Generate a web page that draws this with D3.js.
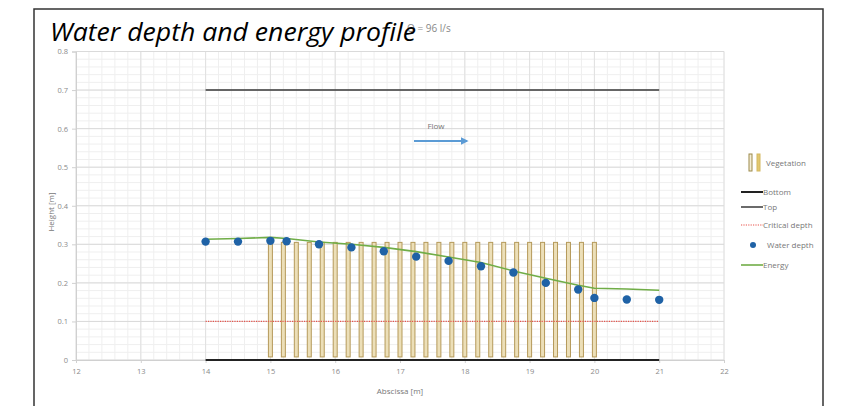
<!DOCTYPE html>
<html><head><meta charset="utf-8">
<script src="https://cdn.jsdelivr.net/npm/d3@7"></script>
<style>body{margin:0;background:#fff}svg{display:block}</style>
</head><body><svg id="c" width="846" height="406"></svg>
<script>
const stations = [14, 14.5, 15, 15.25, 15.75, 16.25, 16.75, 17.25, 17.75, 18.25, 18.75, 19.25, 19.75, 20, 20.5, 21];
const waterDepth = [0.307, 0.307, 0.309, 0.308, 0.300, 0.292, 0.282, 0.268, 0.257, 0.243, 0.227, 0.200, 0.183, 0.161, 0.157, 0.156];
const energy = [0.313, 0.315, 0.318, 0.315, 0.306, 0.300, 0.292, 0.281, 0.267, 0.253, 0.231, 0.212, 0.194, 0.186, 0.184, 0.181];
const vegX = [15, 15.2, 15.4, 15.6, 15.8, 16, 16.2, 16.4, 16.6, 16.8, 17, 17.2, 17.4, 17.6, 17.8, 18, 18.2, 18.4, 18.6, 18.8, 19, 19.2, 19.4, 19.6, 19.8, 20];
const vegRange = [0.008, 0.305];
const channelX = [14, 21];
const bottomY = [0, 0];
const topY = [0.7, 0.7];
const criticalY = [0.1, 0.1];
const xTicks = [12, 13, 14, 15, 16, 17, 18, 19, 20, 21, 22];
const yTicks = [0, 0.1, 0.2, 0.3, 0.4, 0.5, 0.6, 0.7, 0.8];
const legendLabels = ["Vegetation", "Bottom", "Top", "Critical depth", "Water depth", "Energy"];

const svg = d3.select("#c");
const x = d3.scaleLinear().domain([12, 22]).range([76, 724]);
const y = d3.scaleLinear().domain([0, 0.8]).range([360, 51.5]);
const greyTxt = "#8a8a8a";

// frame
svg.append("rect").attr("x", 34).attr("y", 9).attr("width", 789).attr("height", 420)
  .attr("fill", "none").attr("stroke", "#333").attr("stroke-width", 1.5);

// minor grid
const g = svg.append("g");
g.selectAll(".vmin").data(d3.range(12, 22.001, 0.2)).join("line")
  .attr("x1", d => x(d)).attr("x2", d => x(d)).attr("y1", y(0)).attr("y2", y(0.8))
  .attr("stroke", "#efefef").attr("stroke-width", 1);
g.selectAll(".hmin").data(d3.range(0, 0.8001, 0.02)).join("line")
  .attr("x1", x(12)).attr("x2", x(22)).attr("y1", d => y(d)).attr("y2", d => y(d))
  .attr("stroke", "#efefef").attr("stroke-width", 1);
// major grid
g.selectAll(".vmaj").data(xTicks).join("line")
  .attr("x1", d => x(d)).attr("x2", d => x(d)).attr("y1", y(0)).attr("y2", y(0.8))
  .attr("stroke", "#e0e0e0").attr("stroke-width", 1);
g.selectAll(".hmaj").data(yTicks).join("line")
  .attr("x1", x(12)).attr("x2", x(22)).attr("y1", d => y(d)).attr("y2", d => y(d))
  .attr("stroke", "#dadada").attr("stroke-width", 1);

// axes
const yAxis = d3.axisLeft(y).tickValues(yTicks).tickSize(4).tickFormat(d => d === 0 ? "0" : d3.format(".1f")(d));
const ya = svg.append("g").attr("transform", `translate(${x(12)},0)`).call(yAxis);
ya.select(".domain").attr("stroke", "#d0d0d0");
ya.selectAll(".tick line").attr("stroke", "#d0d0d0");
ya.selectAll("text").attr("fill", greyTxt).attr("font-family", "Open Sans, sans-serif").attr("font-size", 7.5).attr("dx", -1);
const xAxis = d3.axisBottom(x).tickValues(xTicks).tickSize(3).tickFormat(d3.format("d"));
const xa = svg.append("g").attr("transform", `translate(0,${y(0)})`).call(xAxis);
xa.select(".domain").attr("stroke", "#d0d0d0");
xa.selectAll(".tick line").attr("stroke", "#d0d0d0");
xa.selectAll("text").attr("fill", greyTxt).attr("font-family", "Open Sans, sans-serif").attr("font-size", 7.5).attr("dy", "1.1em");

// vegetation
svg.append("g").selectAll("rect").data(vegX).join("rect")
  .attr("x", d => x(d) - 2).attr("width", 4)
  .attr("y", y(vegRange[1])).attr("height", y(vegRange[0]) - y(vegRange[1]))
  .attr("fill", "#ecdfb8").attr("stroke", "#b59a5a").attr("stroke-width", 1);

// lines
const line = d3.line().x(d => x(d[0])).y(d => y(d[1]));
svg.append("path").datum(channelX.map((v, i) => [v, criticalY[i]])).attr("d", line)
  .attr("stroke", "#e8524a").attr("stroke-width", 1.2).attr("stroke-dasharray", "1.2,1.2").attr("fill", "none");
svg.append("path").datum(channelX.map((v, i) => [v, topY[i]])).attr("d", line)
  .attr("stroke", "#3a3a3a").attr("stroke-width", 1.5).attr("fill", "none");
svg.append("path").datum(channelX.map((v, i) => [v, bottomY[i]])).attr("d", line)
  .attr("stroke", "#222").attr("stroke-width", 2.2).attr("fill", "none");
svg.append("path").datum(stations.map((v, i) => [v, energy[i]])).attr("d", line)
  .attr("stroke", "#70ad47").attr("stroke-width", 1.6).attr("fill", "none");
svg.append("g").selectAll("circle").data(stations.map((v, i) => [v, waterDepth[i]])).join("circle")
  .attr("cx", d => x(d[0])).attr("cy", d => y(d[1])).attr("r", 4.2)
  .attr("fill", "#1f62a6");

// flow arrow
svg.append("defs").append("marker").attr("id", "ah").attr("viewBox", "0 0 10 10")
  .attr("refX", 8).attr("refY", 5).attr("markerWidth", 4).attr("markerHeight", 4).attr("orient", "auto")
  .append("path").attr("d", "M0,0L10,5L0,10z").attr("fill", "#5b9bd5");
svg.append("line").attr("x1", 414).attr("x2", 467).attr("y1", 141).attr("y2", 141)
  .attr("stroke", "#5b9bd5").attr("stroke-width", 2).attr("marker-end", "url(#ah)");
svg.append("text").attr("x", 436).attr("y", 129).attr("text-anchor", "middle")
  .attr("font-family", "Open Sans, sans-serif").attr("font-size", 8).attr("fill", "#777").text("Flow");

// axis titles
svg.append("text").attr("x", 400).attr("y", 394).attr("text-anchor", "middle")
  .attr("font-family", "Open Sans, sans-serif").attr("font-size", 8).attr("fill", "#777").text("Abscissa [m]");
svg.append("text").attr("transform", "translate(54,212) rotate(-90)").attr("text-anchor", "middle")
  .attr("font-family", "Open Sans, sans-serif").attr("font-size", 8).attr("fill", "#777").text("Height [m]");

// Q label and title
svg.append("text").attr("x", 407).attr("y", 32)
  .attr("font-family", "Open Sans, sans-serif").attr("font-size", 10).attr("fill", "#888").text("Q = 96 l/s");
svg.append("text").attr("x", 50).attr("y", 41)
  .attr("font-family", "Open Sans, sans-serif").attr("font-style", "italic").attr("font-size", 25)
  .attr("textLength", 366).attr("lengthAdjust", "spacingAndGlyphs")
  .attr("fill", "#000").text("Water depth and energy profile");

// legend
const lg = svg.append("g").attr("font-family", "Open Sans, sans-serif").attr("font-size", 8).attr("fill", "#777");
const ly = [163, 192, 207, 225, 245, 265];
lg.append("rect").attr("x", 749).attr("y", 154).attr("width", 3).attr("height", 17).attr("fill", "#f4edd6").attr("stroke", "#9c8a4a").attr("stroke-width", 1);
lg.append("rect").attr("x", 757).attr("y", 154).attr("width", 3).attr("height", 17).attr("fill", "#e2c870").attr("stroke", "#d4b860").attr("stroke-width", 1);
lg.append("line").attr("x1", 741).attr("x2", 763).attr("y1", ly[1]).attr("y2", ly[1]).attr("stroke", "#222").attr("stroke-width", 2);
lg.append("line").attr("x1", 741).attr("x2", 763).attr("y1", ly[2]).attr("y2", ly[2]).attr("stroke", "#3a3a3a").attr("stroke-width", 1.5);
lg.append("line").attr("x1", 741).attr("x2", 763).attr("y1", ly[3]).attr("y2", ly[3]).attr("stroke", "#e8524a").attr("stroke-width", 1.2).attr("stroke-dasharray", "1.2,1.2");
lg.append("circle").attr("cx", 753).attr("cy", ly[4]).attr("r", 3).attr("fill", "#1f62a6");
lg.append("line").attr("x1", 741).attr("x2", 763).attr("y1", ly[5]).attr("y2", ly[5]).attr("stroke", "#70ad47").attr("stroke-width", 1.6);
const lx = [766, 763, 763, 763, 767, 763];
lg.selectAll("text").data(legendLabels).join("text")
  .attr("x", (d, i) => lx[i]).attr("y", (d, i) => ly[i]).attr("dy", "0.35em").text(d => d);
</script></body></html>
